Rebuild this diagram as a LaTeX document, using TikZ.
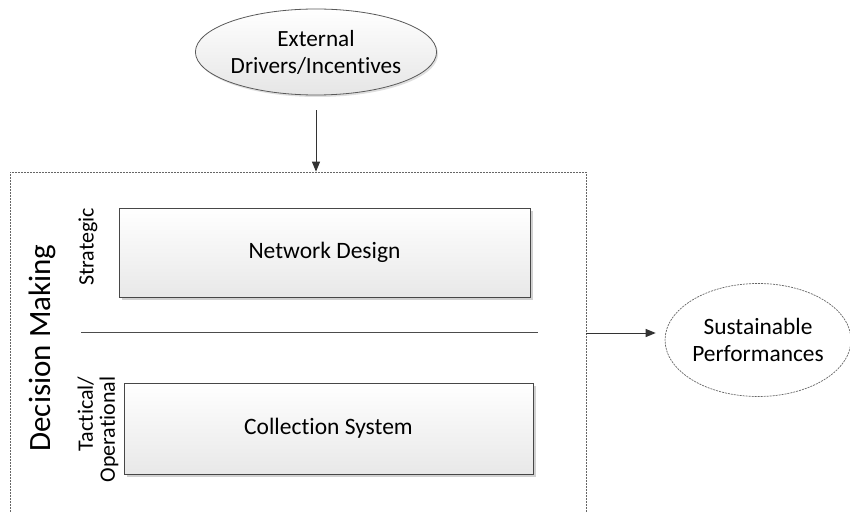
\documentclass[tikz,border=0pt]{standalone}
\usepackage{fontspec}
\setmainfont{Carlito}[Ligatures=NoCommon]
\usetikzlibrary{shapes.geometric,arrows.meta,shadows}
\begin{document}
\begin{tikzpicture}[x=1pt,y=-1pt,
  box/.style={draw=black!72, line width=0.9pt, top color=white, bottom color=black!9,
    drop shadow={shadow xshift=2.5pt,shadow yshift=-2.5pt,fill=black!30,opacity=0.6},
    font=\fontsize{23.5}{28}\selectfont},
  extell/.style={ellipse, draw=black!65, line width=0.8pt, top color=white, bottom color=black!10,
    drop shadow={shadow xshift=1.5pt,shadow yshift=-2pt,fill=black!25,opacity=0.5},
    align=center, inner sep=0pt, font=\fontsize{23.2}{27}\selectfont},
  susell/.style={ellipse, draw=black!60, dash pattern=on 2pt off 1pt, line width=0.7pt, fill=white,
    align=center, inner sep=0pt, font=\fontsize{23.4}{27}\selectfont},
  frame/.style={draw=black!60, dash pattern=on 2pt off 1pt, line width=0.7pt},
  arr/.style={-{Triangle[length=10pt,width=8pt]}, draw=black!80, line width=1pt},
  vlab/.style={rotate=90, align=right, font=\fontsize{22}{22}\selectfont}
]
\useasboundingbox (0,0) rectangle (850,513);
\clip (0,0) rectangle (850,513);

% container
\node[frame, minimum width=576pt, minimum height=400pt, inner sep=0pt] (dm) at (298,372) {};

% top ellipse
\node[extell, minimum width=230pt, minimum height=86pt] (ext) at (316,52) {External\\Drivers/Incentives};

% boxes
\node[box, minimum width=411pt, minimum height=89pt] (nd) at (324.5,252.5) {Network Design};
\node[box, minimum width=409pt, minimum height=91pt] (cs) at (328.5,428.5) {Collection System};

% separator line
\coordinate (s1) at (81,332);
\coordinate (s2) at (538,332);
\draw[black!70, line width=1pt] (s1) -- (s2);

% labels
\node[rotate=90, font=\fontsize{31}{36}\selectfont] (dml) at (42,348) {Decision Making};
\node[vlab] (str) at (88,247) {Strategic};
\node[vlab, anchor=east] (tac) at (98,373) {Tactical/\\Operational};

% right ellipse
\node[susell, minimum width=184pt, minimum height=113pt] (sus) at (758,340) {Sustainable\\Performances};

% arrows
\draw[arr, shorten <=15pt] (ext.south) -- (ext.south |- dm.north);
\coordinate (a1) at (586,333);
\draw[arr, shorten >=9pt] (a1) -- (a1 -| sus.west);
\end{tikzpicture}
\end{document}
